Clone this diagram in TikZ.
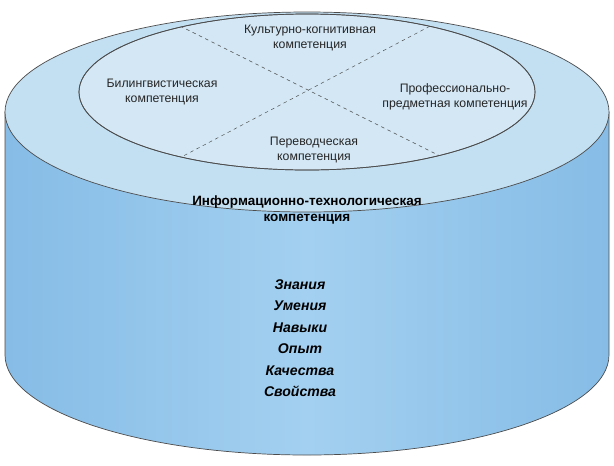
\documentclass[tikz,border=0pt]{standalone}
\usepackage{fontspec}
\setmainfont{Liberation Sans}
\begin{document}
\begin{tikzpicture}[x=0.03cm,y=-0.03cm,
  lbl/.style={align=center,font=\fontsize{10.5}{12.5}\selectfont,text=black!85},
  outl/.style={draw=black!70,line width=0.6pt}]
\useasboundingbox (0,0) rectangle (614,465);
\definecolor{side}{HTML}{A3D0F0}
\definecolor{sidedk}{HTML}{86BCE6}
\definecolor{topc}{HTML}{C3DFF2}
\definecolor{innerc}{HTML}{D3E7F5}
\path[outl,left color=sidedk,right color=sidedk,middle color=side]
  (5,112) -- (5,355) arc[start angle=180,end angle=0,x radius=302,y radius=100] -- (609,112) -- cycle;
\path[outl,fill=topc] (307,112) ellipse [x radius=302,y radius=100];
\path[outl,fill=innerc] (307,92) ellipse [x radius=228,y radius=78];
\coordinate (a1) at (180,26);
\coordinate (a2) at (456,164);
\coordinate (b1) at (436,23);
\coordinate (b2) at (168,164);
\begin{scope}
\clip (307,92) ellipse [x radius=228,y radius=78];
\draw[dashed,black!70] (a1) -- (a2);
\draw[dashed,black!70] (b1) -- (b2);
\end{scope}
\path[outl] (307,92) ellipse [x radius=228,y radius=78];
\node[lbl] (k1) at (310,38) {Культурно-когнитивная\\компетенция};
\node[lbl] (k2) at (162,92) {Билингвистическая\\компетенция};
\node[lbl] (k3) at (455,97) {Профессионально-\\предметная компетенция};
\node[lbl] (k4) at (314,150) {Переводческая\\компетенция};
\node[align=center,font=\fontsize{11.5}{13}\selectfont\bfseries] (it) at (307,210) {Информационно-технологическая\\компетенция};
\node[align=center,font=\fontsize{12}{18.3}\selectfont\bfseries\itshape] (list) at (300,338) {Знания\\Умения\\Навыки\\Опыт\\Качества\\Свойства};
\end{tikzpicture}
\end{document}
